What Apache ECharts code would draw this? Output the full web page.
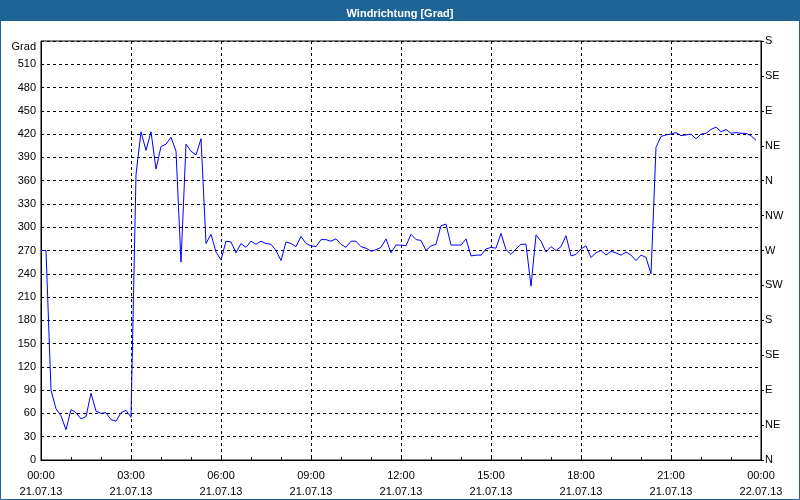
<!DOCTYPE html>
<html><head><meta charset="utf-8">
<script src="https://cdn.jsdelivr.net/npm/echarts/dist/echarts.min.js"></script>
<style>html,body{margin:0;padding:0;background:#fff}#c{width:800px;height:500px}</style>
</head><body><div id="c"></div>
<script>
const titleText = 'Windrichtung [Grad]';
const yAxisName = 'Grad';
const startMinute = 0;      // 21.07.13 00:00
const stepMinutes = 10;     // sampling interval
const windDirection = [
  270, 270, 90, 66, 57, 39, 65, 61, 53, 56, 86, 63, 60, 61, 52, 50, 61, 64, 55,
  368, 423, 399, 423, 375, 404, 407, 416, 398, 255, 407, 398, 393, 414, 279, 291, 268,
  258, 282, 281, 267, 279, 274, 282, 278, 282, 279, 278, 270, 257, 281, 279, 275, 288, 279,
  276, 275, 284, 284, 282, 285, 278, 274, 282, 282, 275, 273, 269, 271, 274, 285, 267, 277,
  277, 276, 291, 284, 283, 270, 276, 278, 302, 304, 277, 277, 277, 285, 263, 264, 264, 272,
  274, 273, 292, 271, 265, 272, 278, 278, 224, 290, 282, 268, 275, 270, 275, 289, 263, 265,
  272, 276, 261, 267, 270, 264, 269, 267, 264, 268, 264, 257, 264, 261, 240,
  403, 417, 419, 420, 422, 418, 419, 420, 414, 420, 421, 426, 429, 423, 426, 421, 422, 421, 421, 418, 412
];
const timeLabels = ['00:00','03:00','06:00','09:00','12:00','15:00','18:00','21:00','00:00'];
const dateLabels = ['21.07.13','21.07.13','21.07.13','21.07.13','21.07.13','21.07.13','21.07.13','21.07.13','22.07.13'];
const compassLabels = ['N','NE','E','SE','S','SW','W','NW','N','NE','E','SE','S'];

const seriesData = windDirection.map((v, i) => [startMinute + i * stepMinutes, v]);
const FONT = 'Liberation Sans';
const BLUE = '#1e6496';

const chart = echarts.init(document.getElementById('c'), null, {renderer: 'canvas'});
chart.setOption({
  animation: false,
  backgroundColor: '#ffffff',
  graphic: [
    {type: 'rect', z: -1, shape: {x: 0, y: 0, width: 800, height: 21}, style: {fill: BLUE}},
    {type: 'rect', z: 100, shape: {x: 0.5, y: 0.5, width: 799, height: 499}, style: {fill: null, stroke: BLUE, lineWidth: 1}}
  ],
  title: {
    text: titleText, left: 'center', top: 3,
    textStyle: {color: '#ffffff', fontFamily: FONT, fontSize: 11, fontWeight: 'bold'}
  },
  grid: {left: 41, right: 39, top: 41, bottom: 39, show: true, borderColor: '#000', borderWidth: 1, backgroundColor: '#ffffff'},
  xAxis: {
    type: 'value', min: 0, max: 1440, interval: 180,
    axisLine: {show: true, lineStyle: {color: '#000', width: 1}},
    axisTick: {show: true, inside: true, length: 3, lineStyle: {color: '#000'}},
    minorTick: {show: true, splitNumber: 3, length: 3, lineStyle: {color: '#000'}},
    splitLine: {show: true, lineStyle: {color: '#000', type: [3, 3], width: 1}},
    axisLabel: {
      color: '#000', fontFamily: FONT, fontSize: 11, lineHeight: 16, margin: 8,
      formatter: function (v) { const k = Math.round(v / 180); return timeLabels[k] + '\n' + dateLabels[k]; }
    }
  },
  yAxis: [
    {
      type: 'value', min: 0, max: 540, interval: 30, position: 'left',
      name: yAxisName, nameLocation: 'end', nameGap: 0,
      nameTextStyle: {color: '#000', fontFamily: FONT, fontSize: 11, align: 'right', verticalAlign: 'top', padding: [0, 5, 0, 0]},
      axisLine: {show: true, lineStyle: {color: '#000'}},
      axisTick: {show: false},
      splitLine: {show: true, lineStyle: {color: '#000', type: [3, 3], width: 1}},
      axisLabel: {color: '#000', fontFamily: FONT, fontSize: 11, margin: 5, showMaxLabel: false}
    },
    {
      type: 'value', min: 0, max: 540, interval: 45, position: 'right',
      axisLine: {show: true, lineStyle: {color: '#000'}},
      axisTick: {show: true, inside: false, length: 3, lineStyle: {color: '#000'}},
      splitLine: {show: false},
      axisLabel: {color: '#000', fontFamily: FONT, fontSize: 11, margin: 4,
        formatter: function (v) { return compassLabels[Math.round(v / 45)]; }}
    }
  ],
  series: [{
    type: 'line', data: seriesData, yAxisIndex: 0,
    showSymbol: false, symbol: 'none', smooth: false,
    lineStyle: {color: '#0000ff', width: 1}
  }]
});
</script></body></html>
